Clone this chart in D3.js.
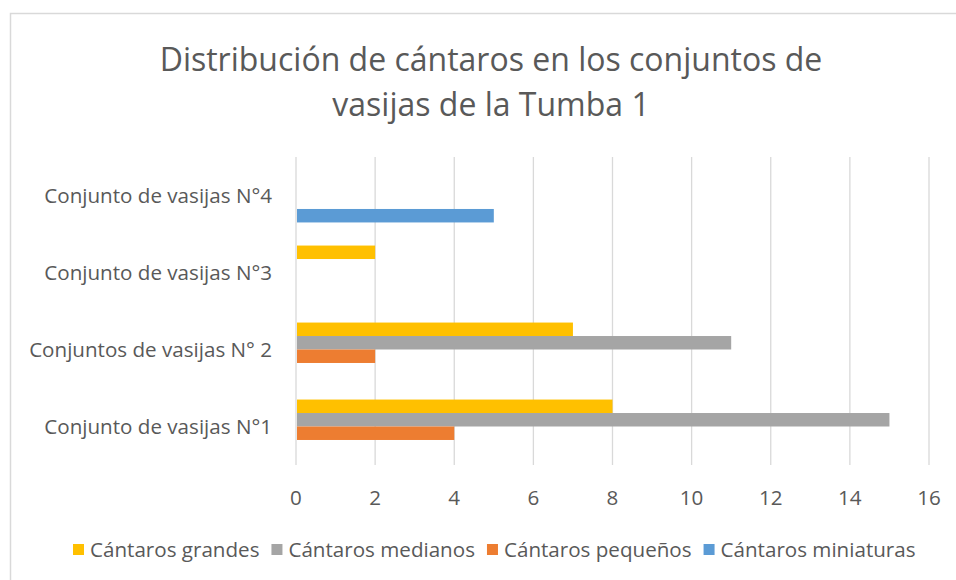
<!DOCTYPE html>
<html>
<head>
<meta charset="utf-8">
<script src="https://cdn.jsdelivr.net/npm/d3@7"></script>
<style>
  body { margin: 0; background: #fff; }
  text { font-family: "Open Sans", "Noto Sans", sans-serif; fill: #595959; }
</style>
</head>
<body>
<div id="chart"></div>
<script>
// Data ------------------------------------------------------------------------
const categories = [
  "Conjunto de vasijas N°1",
  "Conjuntos de vasijas N° 2",
  "Conjunto de vasijas N°3",
  "Conjunto de vasijas N°4"
];
const seriesNames = ["Cántaros grandes", "Cántaros medianos", "Cántaros pequeños", "Cántaros miniaturas"];
const grandes = [8, 7, 2, 0];
const medianos = [15, 11, 0, 0];
const pequenos = [4, 2, 0, 0];
const miniaturas = [0, 0, 0, 5];
const xTicks = [0, 2, 4, 6, 8, 10, 12, 14, 16];
const titleLines = ["Distribución de cántaros en los conjuntos de", "vasijas de la Tumba 1"];

const colors = ["#FFC000", "#A5A5A5", "#ED7D31", "#5B9BD5"];
const seriesValues = [grandes, medianos, pequenos, miniaturas];

// SVG -------------------------------------------------------------------------
const width = 956;
const height = 580;
const plot = { left: 296, right: 929, top: 157, bottom: 465 };
const labelSize = "20.6px";

const svg = d3.select("#chart")
  .append("svg")
  .attr("width", width)
  .attr("height", height);

// chart area border (runs off the right and bottom edges)
svg.append("rect")
  .attr("x", 10.5)
  .attr("y", 13.5)
  .attr("width", 1000)
  .attr("height", 1000)
  .attr("fill", "none")
  .attr("stroke", "#d9d9d9")
  .attr("stroke-width", 1.5);

// Title -----------------------------------------------------------------------
svg.append("g")
  .selectAll("text")
  .data(titleLines)
  .enter()
  .append("text")
  .attr("x", 491)
  .attr("y", (d, i) => 71 + i * 45)
  .attr("text-anchor", "middle")
  .style("font-size", "32px")
  .text(d => d);

// Scales ----------------------------------------------------------------------
const x = d3.scaleLinear()
  .domain([0, 16])
  .range([plot.left, plot.right]);

const y = d3.scaleBand()
  .domain(categories)
  .range([plot.bottom, plot.top])
  .paddingInner(0.3)
  .paddingOuter(0.15);

const ySeries = d3.scaleBand()
  .domain(seriesNames)
  .range([0, y.bandwidth()]);

// Gridlines -------------------------------------------------------------------
svg.append("g")
  .selectAll("line")
  .data(xTicks)
  .enter()
  .append("line")
  .attr("x1", d => x(d))
  .attr("x2", d => x(d))
  .attr("y1", plot.top)
  .attr("y2", plot.bottom)
  .attr("stroke", "#d9d9d9")
  .attr("stroke-width", 1.3);

// Bars ------------------------------------------------------------------------
const barData = [];
categories.forEach((c, ci) => {
  seriesNames.forEach((s, si) => {
    barData.push({ category: c, series: s, value: seriesValues[si][ci], color: colors[si] });
  });
});

svg.append("g")
  .selectAll("rect")
  .data(barData.filter(d => d.value > 0))
  .enter()
  .append("rect")
  .attr("x", x(0) + 1)
  .attr("y", d => y(d.category) + ySeries(d.series))
  .attr("width", d => x(d.value) - x(0) - 1)
  .attr("height", ySeries.bandwidth())
  .attr("fill", d => d.color);

// Axes labels -----------------------------------------------------------------
svg.append("g")
  .selectAll("text")
  .data(categories)
  .enter()
  .append("text")
  .attr("x", 272)
  .attr("y", d => y(d) + y.bandwidth() / 2)
  .attr("dy", "0.35em")
  .attr("text-anchor", "end")
  .style("font-size", labelSize)
  .text(d => d);

svg.append("g")
  .selectAll("text")
  .data(xTicks)
  .enter()
  .append("text")
  .attr("x", d => x(d))
  .attr("y", 505)
  .attr("text-anchor", "middle")
  .style("font-size", labelSize)
  .text(d => d);

// Legend ----------------------------------------------------------------------
const legend = svg.append("g").attr("transform", "translate(73, 550)");
let lx = 0;
seriesNames.forEach((s, i) => {
  const item = legend.append("g").attr("transform", `translate(${lx}, 0)`);
  item.append("rect")
    .attr("x", 0)
    .attr("y", -6)
    .attr("width", 11)
    .attr("height", 11)
    .attr("fill", colors[i]);
  const t = item.append("text")
    .attr("x", 17)
    .attr("y", 0)
    .attr("dy", "0.35em")
    .style("font-size", labelSize)
    .text(s);
  lx += 17 + t.node().getComputedTextLength() + 12;
});
</script>
</body>
</html>
